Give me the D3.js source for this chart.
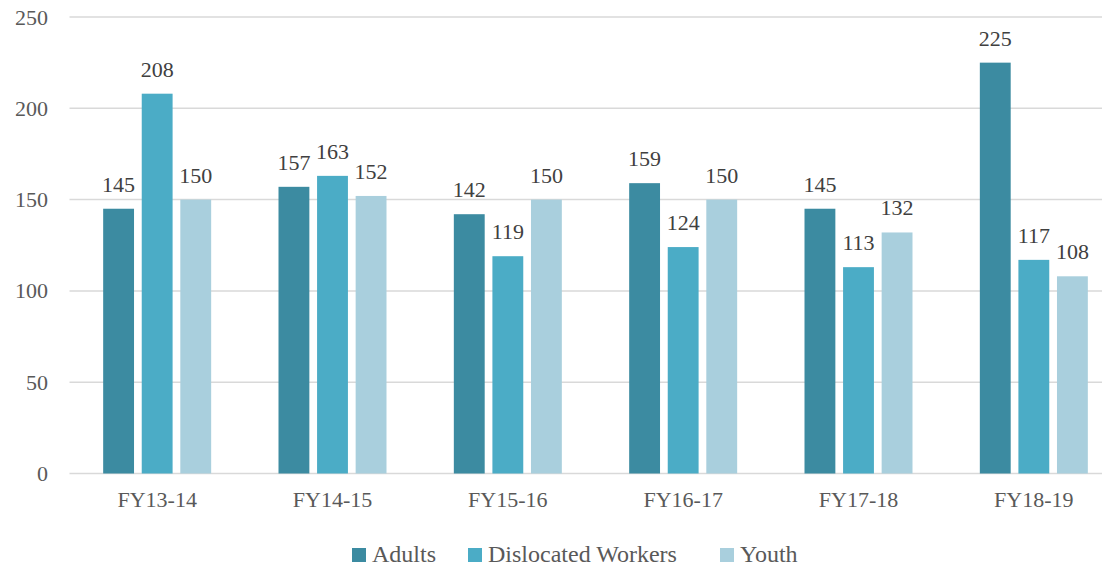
<!DOCTYPE html>
<html lang="en">
<head>
<meta charset="utf-8">
<title>Participants by program year</title>
<script src="https://d3js.org/d3.v7.min.js"></script>
<style>
  body { margin: 0; background: #fff; }
  .grid line { stroke: #d9d9d9; stroke-width: 1.5; }
  .tick text { fill: #595959; }
</style>
</head>
<body>
<div id="chart"></div>
<script>
// data
var years = ["FY13-14", "FY14-15", "FY15-16", "FY16-17", "FY17-18", "FY18-19"];
var seriesNames = ["Adults", "Dislocated Workers", "Youth"];
var adults = [145, 157, 142, 159, 145, 225];
var dislocated = [208, 163, 119, 124, 113, 117];
var youth = [150, 152, 150, 150, 132, 108];
var yTicks = [0, 50, 100, 150, 200, 250];
var colors = ["#3c8ba1", "#4bacc6", "#a9cfdd"];

var width = 1102, height = 565;
var plotLeft = 69.5, plotRight = 1121.5, plotTop = 17, plotBottom = 473.5;
var serif = "'Liberation Serif', 'Times New Roman', serif";

var rows = years.map(function(y, i) {
  return { year: y, values: [adults[i], dislocated[i], youth[i]] };
});

var svg = d3.select("#chart").append("svg")
  .attr("width", width)
  .attr("height", height)
  .attr("font-family", serif);

var x0 = d3.scaleBand().domain(years).range([plotLeft, plotRight]);
var groupW = 108;
var x1 = d3.scaleBand().domain(seriesNames)
  .range([(x0.bandwidth() - groupW) / 2, (x0.bandwidth() + groupW) / 2])
  .paddingInner(0.2);
var y = d3.scaleLinear().domain([0, 250]).range([plotBottom, plotTop]);

// gridlines
svg.append("g").attr("class", "grid")
  .selectAll("line").data(yTicks).enter().append("line")
  .attr("x1", plotLeft).attr("x2", width)
  .attr("y1", function(d) { return y(d); })
  .attr("y2", function(d) { return y(d); });

// y axis labels
var yAxis = d3.axisLeft(y).tickValues(yTicks).tickSize(0).tickPadding(0);
svg.append("g")
  .attr("transform", "translate(48,0)")
  .call(yAxis)
  .attr("font-family", serif)
  .call(function(g) { g.select(".domain").remove(); })
  .selectAll("text").style("font-size", "22px").style("font-family", serif).attr("dy", "0.32em");

// bars
var groups = svg.selectAll("g.year").data(rows).enter().append("g")
  .attr("class", "year")
  .attr("transform", function(d) { return "translate(" + x0(d.year) + ",0)"; });

groups.selectAll("rect").data(function(d) {
  return d.values.map(function(v, i) { return { name: seriesNames[i], value: v, i: i }; });
}).enter().append("rect")
  .attr("x", function(d) { return x1(d.name); })
  .attr("y", function(d) { return y(d.value); })
  .attr("width", x1.bandwidth())
  .attr("height", function(d) { return y(0) - y(d.value); })
  .attr("fill", function(d) { return colors[d.i]; });

groups.selectAll("text.val").data(function(d) {
  return d.values.map(function(v, i) { return { name: seriesNames[i], value: v }; });
}).enter().append("text")
  .attr("class", "val")
  .attr("x", function(d) { return x1(d.name) + x1.bandwidth() / 2; })
  .attr("y", function(d) { return y(d.value) - 17; })
  .attr("text-anchor", "middle")
  .style("font-size", "22px")
  .style("font-family", serif)
  .attr("fill", "#404040")
  .text(function(d) { return d.value; });

// x axis
svg.append("g")
  .attr("transform", "translate(0," + plotBottom + ")")
  .call(d3.axisBottom(x0).tickSize(0).tickPadding(0))
  .attr("font-family", serif)
  .call(function(g) { g.select(".domain").remove(); })
  .selectAll("text").style("font-size", "22px").style("font-family", serif).attr("dy", "1.5em");

// legend
var legendX = [352, 468, 720];
var legend = svg.selectAll("g.legend").data(seriesNames).enter().append("g")
  .attr("class", "legend")
  .attr("transform", function(d, i) { return "translate(" + legendX[i] + ",548)"; });
legend.append("rect")
  .attr("width", 14).attr("height", 14)
  .attr("fill", function(d, i) { return colors[i]; });
legend.append("text")
  .attr("x", 20).attr("y", 13.5)
  .style("font-size", "24px")
  .style("font-family", serif)
  .attr("fill", "#595959")
  .text(function(d) { return d; });
</script>
</body>
</html>
